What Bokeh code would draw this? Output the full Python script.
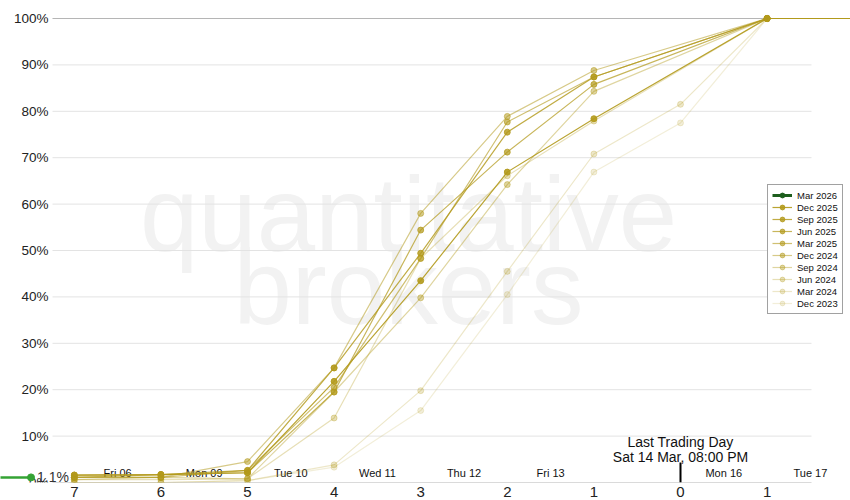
from bokeh.plotting import figure
from bokeh.models import Range1d, Legend, LegendItem, Label, FixedTicker
from bokeh.core.properties import value
from bokeh.embed import file_html
from bokeh.resources import INLINE

# ---------------- data ----------------
days = [-7, -6, -5, -4, -3, -2, -1, 1]
days_ext = [-7, -6, -5, -4, -3, -2, -1, 0, 1]

dec2025 = [1.6, 1.7, 2.1, 21.8, 43.5, 66.9, 78.4, 100]
sep2025 = [1.6, 1.7, 2.6, 24.7, 49.4, 75.5, 87.4, 100]
jun2025 = [1.1, 1.7, 2.1, 19.5, 54.4, 71.2, 85.8, 100]
mar2025 = [1.1, 1.1, 2.6, 20.5, 48.3, 77.7, 87.4, 100]
dec2024 = [1.1, 1.1, 4.5, 24.7, 58.0, 78.9, 88.8, 100]
sep2024 = [0.6, 1.1, 0.8, 19.5, 39.8, 64.2, 84.3, 100]
jun2024 = [0.6, 0.6, 0.8, 13.9, 48.3, 66.1, 77.9, 100]
mar2024 = [0.0, 0.0, 0.4, 3.8, 19.8, 45.5, 70.8, 81.5, 100]
dec2023 = [0.0, 0.0, 0.4, 3.3, 15.5, 40.5, 66.9, 77.5, 100]

mar2026_days = [-8.0, -7.5]
mar2026 = [1.1, 1.1]

series_names = ["Dec 2025", "Sep 2025", "Jun 2025", "Mar 2025", "Dec 2024",
                "Sep 2024", "Jun 2024", "Mar 2024", "Dec 2023"]
series_values = [dec2025, sep2025, jun2025, mar2025, dec2024,
                 sep2024, jun2024, mar2024, dec2023]
series_days = [days, days, days, days, days, days, days, days_ext, days_ext]
series_alpha = [0.9, 0.82, 0.72, 0.62, 0.52, 0.42, 0.32, 0.24, 0.17]

x_ticks = [-7, -6, -5, -4, -3, -2, -1, 0, 1]
x_tick_labels = ["7", "6", "5", "4", "3", "2", "1", "0", "1"]
y_ticks = [0, 10, 20, 30, 40, 50, 60, 70, 80, 90, 100]
y_tick_labels = ["0%", "10%", "20%", "30%", "40%", "50%", "60%", "70%", "80%", "90%", "100%"]

day_label_pos = [-6.5, -5.5, -4.5, -3.5, -2.5, -1.5, 0.5, 1.5]
day_labels = ["Fri 06", "Mon 09", "Tue 10", "Wed 11", "Thu 12", "Fri 13", "Mon 16", "Tue 17"]

last_day_x = 0
last_day_text = ["Last Trading Day", "Sat 14 Mar, 08:00 PM"]

# ---------------- layout ----------------
FRAME_W, FRAME_H = 850, 482
PX_PER_DAY = 86.6
X0_SCREEN = 680                       # screen x of day 0
Y0_SCREEN = 482                       # screen y of 0 %
PX_PER_PCT = 4.64
FONT = "Liberation Sans"
OLIVE = "#b39a1c"
NAN = float("nan")


def px_x(sx):
    """screen x -> data x"""
    return (sx - X0_SCREEN) / PX_PER_DAY


def px_y(sy):
    """screen y -> data y"""
    return (Y0_SCREEN - sy) / PX_PER_PCT


p = figure(frame_width=FRAME_W, frame_height=FRAME_H, output_backend="svg", toolbar_location=None,
           x_range=Range1d(px_x(0), px_x(FRAME_W)),
           y_range=Range1d(0, px_y(0)),
           y_axis_location=None,
           min_border_left=0, min_border_right=0, min_border_top=0, min_border_bottom=0)
p.styles = {"margin-right": "-8px", "margin-bottom": "-16px"}
p.outline_line_color = None
p.grid.visible = False
p.background_fill_color = "white"

ax = p.xaxis[0]
ax.ticker = FixedTicker(ticks=x_ticks)
ax.major_label_overrides = {t: l for t, l in zip(x_ticks, x_tick_labels)}
ax.axis_line_color = None
ax.major_tick_line_color = None
ax.minor_tick_line_color = None
ax.major_tick_out = 0
ax.major_tick_in = 0
ax.major_label_standoff = 4
ax.major_label_text_font = FONT
ax.major_label_text_font_size = "15px"
ax.major_label_text_color = "#222222"

# watermark
for txt, sy in [("quantitative", 214), ("brokers", 287)]:
    p.add_layout(Label(x=px_x(408), y=px_y(sy), text=txt, text_align="center",
                       text_baseline="alphabetic", text_font=FONT,
                       text_font_size="105px", text_color="#f2f2f2", level="underlay"))

# gridlines
grid_colors = ["#b5b5b5" if t in (0, 100) else "#e3e3e3" for t in y_ticks]
p.segment(x0=px_x(52), x1=px_x(811), y0=y_ticks, y1=y_ticks, line_color=grid_colors, line_width=1)

# y tick labels
p.text(x=px_x(48), y=y_ticks, text=y_tick_labels, text_align="right", text_baseline="middle",
       text_font=value(FONT), text_font_size="13.5px", text_color="#222222")

# day labels
p.text(x=day_label_pos, y=px_y(472), text=day_labels, text_align="center", text_baseline="middle",
       text_font=value(FONT), text_font_size="11px", text_color="#111111")

# last trading day marker
p.segment(x0=[last_day_x], x1=[last_day_x], y0=[0], y1=[px_y(462)], line_color="black", line_width=2)
p.text(x=[last_day_x, last_day_x], y=[px_y(441), px_y(456)], text=last_day_text,
       text_align="center", text_baseline="middle",
       text_font=value(FONT), text_font_size="14px", text_color="#111111")

items = []
# Mar 2026 (current)
p.line(mar2026_days, mar2026, line_color="#34a334", line_width=2.5)
p.scatter(mar2026_days[-1:], mar2026[-1:], size=7, color="#34a334")
p.text(x=mar2026_days[-1:], y=mar2026[-1:], text=["%.1f%%" % mar2026[-1]], x_offset=6,
       text_align="left", text_baseline="middle",
       text_font=value(FONT), text_font_size="14px", text_color="#333333")
leg_l = p.line([NAN], [NAN], line_color="#1d5e1d", line_width=3)
leg_s = p.scatter([NAN], [NAN], size=7, color="#1d5e1d")
items.append(LegendItem(label="Mar 2026", renderers=[leg_l, leg_s]))

for name, xs, ys, a in zip(series_names, series_days, series_values, series_alpha):
    p.ray(x=xs[-1:], y=ys[-1:], length=0, angle=0, line_color=OLIVE, line_alpha=min(1, a + 0.1), line_width=1.2)
    lr = p.line(xs, ys, line_color=OLIVE, line_alpha=a, line_width=1.2)
    sr = p.scatter(xs, ys, size=6, color=OLIVE, alpha=a)
    items.append(LegendItem(label=name, renderers=[lr, sr]))

legend = Legend(items=items, location=(767, Y0_SCREEN - 314),
                border_line_color="#444444", border_line_width=1,
                background_fill_color="white", background_fill_alpha=1.0,
                label_text_font=FONT, label_text_font_size="9.5px", label_text_color="#111111",
                glyph_width=20, glyph_height=12, label_height=12, label_standoff=5,
                spacing=0, padding=4, margin=0)
p.add_layout(legend)

open("out.html", "w").write(file_html(p, INLINE))
